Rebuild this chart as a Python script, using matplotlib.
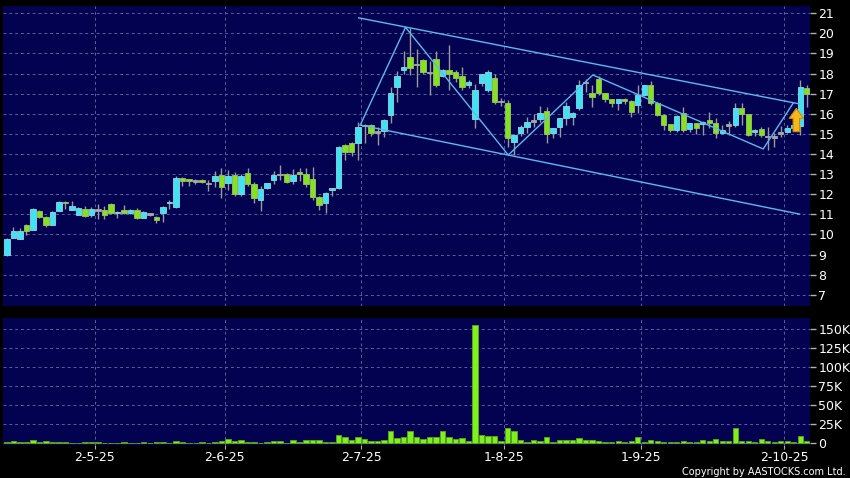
import numpy as np
import matplotlib
matplotlib.use("Agg")
import matplotlib.pyplot as plt
from matplotlib.patches import FancyArrow

# daily OHLC (index 0 = first bar on the left)
opens = [8.98, 9.82, 9.77, 10.48, 10.22, 11.18, 10.88, 10.48, 11.18, 11.62,
         11.23, 10.98, 11.26, 10.95, 11.22, 11.20, 11.51, 11.05, 11.22, 11.05,
         11.22, 10.82, 11.03, 10.88, 11.07, 11.55, 11.35, 12.80, 12.75, 12.67,
         12.70, 12.54, 12.67, 12.96, 12.56, 12.96, 12.00, 13.05, 12.51, 11.72,
         12.30, 12.70, 12.97, 13.00, 12.67, 13.12, 13.00, 12.76, 11.85, 11.55,
         12.20, 12.30, 14.45, 14.55, 14.53, 15.45, 15.44, 15.08, 15.16, 15.94,
         17.35, 18.20, 18.84, 18.46, 18.67, 18.06, 18.70, 17.88, 18.20, 18.06,
         17.88, 17.41, 15.72, 17.51, 17.18, 17.80, 16.60, 16.52, 14.61, 15.03,
         15.32, 15.64, 15.74, 16.14, 15.03, 15.33, 15.77, 15.85, 16.27, 17.55,
         17.02, 17.71, 17.02, 16.72, 16.52, 16.72, 16.65, 16.44, 16.93, 17.43,
         16.55, 15.94, 15.49, 15.19, 16.02, 15.24, 15.52, 15.49, 15.69, 15.52,
         15.06, 15.44, 15.44, 16.27, 15.97, 15.07, 15.22, 14.86, 14.85, 15.05,
         15.11, 15.27, 15.37, 17.27]
highs = [9.82, 10.38, 10.30, 10.50, 11.30, 11.22, 10.90, 11.15, 11.68, 11.68,
         11.68, 11.35, 11.43, 11.38, 11.52, 11.40, 11.55, 11.15, 11.45, 11.25,
         11.30, 11.15, 11.08, 10.90, 11.40, 11.70, 12.91, 12.85, 12.78, 12.78,
         12.75, 12.70, 13.14, 13.30, 13.20, 13.10, 13.00, 13.30, 12.60, 12.40,
         12.57, 13.14, 13.47, 13.03, 13.25, 13.30, 13.30, 13.37, 11.90, 12.10,
         12.32, 14.40, 14.50, 14.60, 15.60, 15.50, 15.50, 15.35, 15.72, 17.35,
         18.14, 19.13, 20.25, 19.20, 18.70, 18.60, 19.10, 18.25, 19.42, 18.20,
         18.34, 17.70, 17.46, 18.00, 18.20, 18.00, 16.80, 16.68, 15.00, 15.45,
         15.85, 16.00, 16.40, 16.35, 15.30, 15.80, 16.60, 16.07, 17.68, 17.72,
         17.43, 17.86, 17.05, 16.75, 16.75, 16.80, 16.70, 17.43, 17.45, 17.65,
         16.60, 16.00, 15.50, 15.95, 16.35, 15.55, 15.55, 15.65, 16.10, 15.80,
         15.44, 15.62, 16.52, 16.52, 16.00, 15.25, 15.35, 15.35, 15.06, 15.40,
         15.44, 15.60, 17.68, 17.43]
lows = [8.92, 9.80, 9.75, 9.99, 10.20, 10.80, 10.35, 10.45, 11.15, 11.26,
        11.20, 10.95, 10.85, 10.85, 10.77, 10.75, 11.00, 10.82, 11.00, 11.00,
        10.78, 10.80, 10.92, 10.55, 10.60, 11.25, 11.30, 12.42, 12.43, 12.50,
        12.55, 12.15, 12.34, 11.80, 12.20, 11.90, 11.90, 12.43, 11.55, 11.18,
        12.28, 12.50, 12.70, 12.55, 12.50, 12.67, 12.37, 11.70, 11.20, 11.08,
        11.93, 12.25, 13.70, 13.90, 13.70, 14.53, 14.90, 14.44, 14.86, 15.52,
        16.60, 18.00, 17.93, 17.35, 18.00, 16.93, 17.35, 17.85, 17.20, 17.60,
        17.20, 17.30, 15.27, 17.40, 17.10, 16.50, 16.40, 14.36, 13.95, 14.90,
        15.03, 15.36, 15.60, 14.53, 14.78, 14.86, 15.44, 15.44, 16.20, 17.10,
        16.35, 16.95, 16.60, 16.35, 16.18, 16.50, 15.86, 16.02, 16.90, 16.44,
        15.90, 15.20, 15.10, 15.10, 15.10, 15.10, 15.00, 14.95, 15.27, 14.82,
        14.99, 14.95, 15.36, 15.44, 14.89, 14.90, 14.85, 14.22, 14.36, 14.85,
        15.02, 15.20, 14.95, 16.35]
closes = [9.77, 10.19, 10.19, 10.19, 11.26, 10.85, 10.48, 11.13, 11.63, 11.55,
          11.40, 11.30, 10.90, 11.25, 11.20, 10.95, 11.07, 11.12, 11.06, 11.22,
          10.80, 11.13, 11.00, 10.72, 11.38, 11.60, 12.79, 12.64, 12.65, 12.65,
          12.60, 12.54, 12.92, 12.37, 12.90, 12.00, 12.92, 12.51, 11.81, 12.26,
          12.55, 12.95, 12.97, 12.59, 12.95, 13.00, 12.51, 11.85, 11.46, 12.06,
          12.30, 14.36, 14.10, 14.10, 15.36, 15.40, 15.03, 15.10, 15.69, 17.01,
          17.88, 18.34, 18.26, 18.46, 18.06, 18.06, 17.43, 18.18, 17.98, 17.80,
          17.35, 17.60, 17.18, 17.98, 18.09, 16.57, 16.60, 14.78, 14.94, 15.32,
          15.60, 15.64, 16.02, 14.99, 15.27, 15.77, 16.39, 16.05, 17.43, 17.55,
          16.85, 17.02, 16.72, 16.52, 16.72, 16.62, 16.10, 16.93, 17.43, 16.52,
          15.94, 15.44, 15.19, 15.89, 15.19, 15.52, 15.27, 15.60, 15.52, 15.06,
          15.19, 15.45, 16.27, 15.97, 14.94, 15.20, 14.94, 14.86, 14.83, 15.05,
          15.27, 15.45, 17.32, 17.00]
volumes_k = [2.2, 3.1, 1.8, 1.8, 3.9, 1.3, 3.1, 1.8, 1.8, 1.8,
             0.9, 0.9, 1.8, 1.8, 1.3, 0.4, 0.4, 0.4, 1.8, 0.4,
             0.4, 1.3, 0.4, 1.3, 1.3, 0.9, 3.1, 1.8, 0.4, 0.4,
             1.3, 0.9, 2.4, 3.5, 5.7, 3.1, 3.9, 1.8, 1.8, 0.9,
             1.3, 3.1, 3.1, 0.9, 3.9, 2.2, 4.4, 4.4, 4.4, 1.8,
             1.8, 11.0, 8.3, 3.9, 8.8, 5.7, 2.6, 2.6, 4.4, 16.2,
             7.0, 8.3, 15.8, 8.3, 6.3, 8.8, 8.8, 16.2, 8.3, 5.7,
             7.0, 3.5, 155.6, 10.5, 9.6, 10.1, 3.5, 20.2, 16.2, 4.4,
             2.2, 4.4, 3.5, 8.3, 2.2, 4.8, 4.8, 3.9, 7.5, 4.8,
             4.8, 3.1, 2.2, 2.2, 2.6, 1.3, 3.1, 8.3, 1.8, 3.9,
             3.1, 1.3, 1.3, 2.2, 2.6, 1.8, 1.8, 3.9, 3.1, 6.1,
             3.1, 3.5, 19.7, 3.5, 3.5, 2.2, 6.1, 3.5, 2.2, 3.5,
             3.5, 2.2, 9.6, 3.1]

# month boundaries on the x axis
date_labels = ["2-5-25", "2-6-25", "2-7-25", "1-8-25", "1-9-25", "2-10-25"]
date_pos = [13.5, 33.5, 54.5, 76.5, 97.5, 119.5]

# drawn trend lines (bar index, price)
upper_x, upper_y = [54.1, 121.9], [20.77, 16.49]
lower_x, lower_y = [54.3, 121.9], [15.44, 11.01]
zig_x = [54.4, 61.3, 77.1, 90.1, 116.3, 120.9]
zig_y = [15.48, 20.30, 13.95, 17.93, 14.25, 16.52]
signal_x, signal_y = 121.4, 15.11

price_ticks = list(range(7, 22))
vol_ticks = [0, 25, 50, 75, 100, 125, 150]

o = np.array(opens); h = np.array(highs); l = np.array(lows); c = np.array(closes)
x = np.arange(len(o))

BG = "#020250"
GRID = "#55609a"
UP, UP_E = "#3fe4f4", "#8fd8e0"
DN, DN_E = "#84e41c", "#9cc070"
FLAT = "#a8a8a8"

fig = plt.figure(figsize=(8.5, 4.78), dpi=100, facecolor="black")
ax = fig.add_axes([3/850, 1-306/478, 807/850, 300/478])
axv = fig.add_axes([3/850, 1-445/478, 807/850, 127/478], sharex=ax)

for a in (ax, axv):
    a.set_facecolor(BG)
    for s in a.spines.values():
        s.set_visible(False)
    a.yaxis.tick_right()
    a.tick_params(axis="y", colors="#b0b0b0", labelcolor="white", length=4,
                  width=1, pad=2, labelsize=9)
    a.tick_params(axis="x", colors="#b0b0b0", labelcolor="white", length=3,
                  pad=1.5, labelsize=9)
    a.grid(True, color=GRID, linestyle=(0, (3, 3)), linewidth=0.7)
    a.set_axisbelow(True)

# candles
ax.vlines(x, l, h, color="#9a9a9a", linewidth=1, zorder=2)
diff = c - o
body_h = np.maximum(np.abs(diff), 0.07)
body_b = np.where(np.abs(diff) < 0.07, (o + c) / 2 - 0.035, np.minimum(o, c))
face = np.where(np.abs(diff) < 0.03, FLAT, np.where(diff > 0, UP, DN))
edge = np.where(np.abs(diff) < 0.03, FLAT, np.where(diff > 0, UP_E, DN_E))
ax.bar(x, body_h, bottom=body_b, width=0.82, color=face, edgecolor=edge,
       linewidth=0.6, zorder=3)

ax.plot(upper_x, upper_y, color="#5cb8f2", lw=1, zorder=4)
ax.plot(lower_x, lower_y, color="#5cb8f2", lw=1, zorder=4)
ax.plot(zig_x, zig_y, color="#5cb8f2", lw=1, zorder=4)
ax.add_patch(FancyArrow(signal_x, signal_y, 0, 1.16, width=1.0, head_width=2.2,
                        head_length=0.5, length_includes_head=True,
                        fc="#f7b81e", ec="#d08a00", lw=0.8, zorder=5))

ax.set_ylim(6.44, 21.36)
ax.set_yticks(price_ticks)
ax.set_xlim(-0.6, 123.5)
ax.set_xticks(date_pos)
ax.tick_params(axis="x", length=0, labelbottom=False)

# volume
axv.bar(x, volumes_k, width=0.82, color="#7ef01e", edgecolor="#5aa818",
        linewidth=0.6, zorder=3)
axv.set_ylim(-2.2, 164.9)
axv.set_yticks(vol_ticks)
axv.set_yticklabels(["0"] + ["%dK" % v for v in vol_ticks[1:]])
axv.set_xticks(date_pos)
axv.set_xticklabels(date_labels)

fig.text(846/850, 1/478, "Copyright by AASTOCKS.com Ltd.", ha="right",
         va="bottom", color="white", fontsize=7)

fig.savefig("out.png", dpi=100, facecolor="black")
